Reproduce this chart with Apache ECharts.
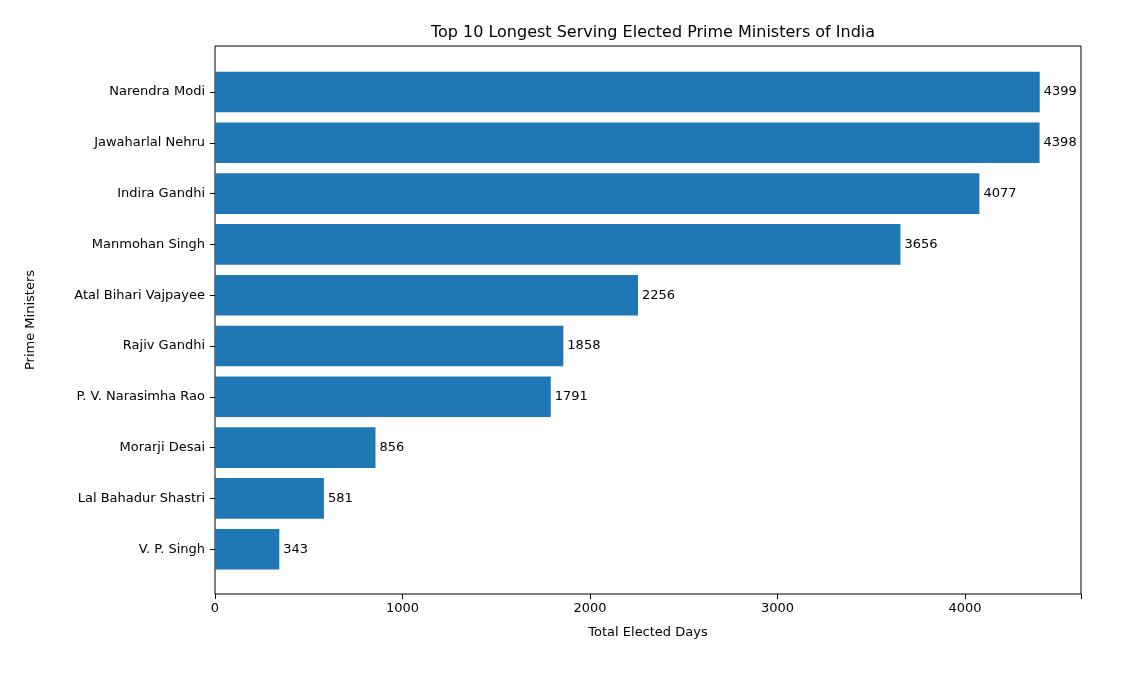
<!DOCTYPE html>
<html><head><meta charset="utf-8">
<script src="https://cdn.jsdelivr.net/npm/echarts@6/dist/echarts.min.js"></script>
<style>html,body{margin:0;padding:0;background:#fff}#c{width:1126px;height:687px}</style>
</head><body><div id="c"></div>
<script>
const names = ["Narendra Modi","Jawaharlal Nehru","Indira Gandhi","Manmohan Singh","Atal Bihari Vajpayee","Rajiv Gandhi","P. V. Narasimha Rao","Morarji Desai","Lal Bahadur Shastri","V. P. Singh"];
const days = [4399,4398,4077,3656,2256,1858,1791,856,581,343];
const xTicks = [0,1000,2000,3000,4000];
const font = "DejaVu Sans";
const chart = echarts.init(document.getElementById('c'));
chart.setOption({
  animation:false,
  textStyle:{fontFamily:font},
  title:{text:"Top 10 Longest Serving Elected Prime Ministers of India",left:648,top:20,textAlign:'center',
    textStyle:{fontFamily:font,fontSize:16,fontWeight:'normal',color:'#000'}},
  grid:[
    {left:215,right:45,top:66.6,bottom:112.4},
    {left:215,right:45,top:46,bottom:93,show:true,borderColor:'#000',borderWidth:1,backgroundColor:'transparent'}
  ],
  xAxis:[
    {gridIndex:0,type:'value',min:0,max:4619,show:false},
    {gridIndex:1,type:'value',min:0,max:4619,interval:1000,
      name:"Total Elected Days",nameLocation:'middle',nameGap:32,
      nameTextStyle:{fontFamily:font,fontSize:13,color:'#000'},
      axisLine:{show:false},axisTick:{show:true,length:5,inside:false,lineStyle:{color:'#000'}},
      splitLine:{show:false},
      axisLabel:{fontFamily:font,fontSize:13,color:'#000',margin:8,
        formatter:v=>xTicks.includes(v)?String(v):''}}
  ],
  yAxis:[
    {gridIndex:0,type:'category',data:names,inverse:true,
      axisLine:{show:false},axisTick:{show:true,alignWithLabel:true,length:5,lineStyle:{color:'#000'}},
      axisLabel:{fontFamily:font,fontSize:13,color:'#000',margin:10}},
    {gridIndex:1,type:'value',min:0,max:1,show:true,
      name:"Prime Ministers",nameLocation:'middle',nameGap:178,nameRotate:90,
      nameTextStyle:{fontFamily:font,fontSize:13,color:'#000'},
      axisLine:{show:false},axisTick:{show:false},axisLabel:{show:false},splitLine:{show:false}}
  ],
  series:[{
    type:'bar',xAxisIndex:0,yAxisIndex:0,data:days,barWidth:40.6,
    itemStyle:{color:'#1f77b4'},
    label:{show:true,position:'right',distance:4,fontFamily:font,fontSize:13,color:'#000'}
  }]
});
</script></body></html>
